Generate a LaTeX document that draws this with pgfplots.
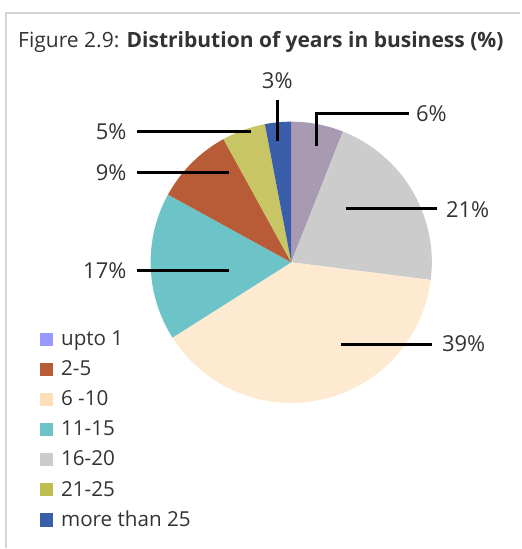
\documentclass[border=0pt]{standalone}
\usepackage{fontspec}
\setmainfont{Open Sans}
\usepackage{pgfplots}
\pgfplotsset{compat=1.18}
\definecolor{txt}{HTML}{333333}
\definecolor{frame}{HTML}{D4D4D4}
\definecolor{cA}{HTML}{A99AB3}
\definecolor{cAleg}{HTML}{9999FF}
\definecolor{cB}{HTML}{B85C37}
\definecolor{cC}{HTML}{FEE9D1}
\definecolor{cCleg}{HTML}{FFDFBA}
\definecolor{cD}{HTML}{6CC4C9}
\definecolor{cE}{HTML}{CCCCCC}
\definecolor{cF}{HTML}{C8C564}
\definecolor{cFleg}{HTML}{BEBD4F}
\definecolor{cG}{HTML}{3B5EAB}
% shares (%), in clockwise order from 12 o'clock
\def\pUp{6}   % upto 1
\def\pSix{21} % 16-20
\def\pSeven{39} % 6-10
\def\pEl{17}  % 11-15
\def\pTwo{9}  % 2-5
\def\pTw{5}   % 21-25
\def\pMo{3}   % more than 25
\begin{document}
\begin{tikzpicture}
\begin{axis}[
  x=0.75pt, y=0.75pt, y dir=reverse,
  xmin=0, xmax=521, ymin=0, ymax=549,
  hide axis, clip=false, scale only axis,
  legend style={at={(axis cs:40,331)}, anchor=north west, draw=none, fill=none,
    font=\fontsize{15.5}{18}\selectfont\color{txt}, row sep=8.9pt,
    inner sep=0pt, nodes={inner sep=0.5pt},
    /tikz/every even column/.style={column sep=0pt},
    /tikz/every odd column/.style={column sep=5.5pt}},
  legend cell align=left,
  legend image code/.code={\fill[#1,draw=none] (0pt,-4.9pt) rectangle (9.75pt,4.9pt);},
]
\pgfmathsetmacro{\aA}{90}
\pgfmathsetmacro{\aB}{\aA-3.6*\pUp}
\pgfmathsetmacro{\aC}{\aB-3.6*\pSix}
\pgfmathsetmacro{\aD}{\aC-3.6*\pSeven}
\pgfmathsetmacro{\aE}{\aD-3.6*\pEl}
\pgfmathsetmacro{\aF}{\aE-3.6*\pTwo}
\pgfmathsetmacro{\aG}{\aF-3.6*\pTw}
\pgfmathsetmacro{\aH}{\aG-3.6*\pMo}
\addplot[fill=cA, draw=none, domain=\aB:\aA, samples=20, variable=\t, forget plot]
  ({292+141*cos(\t)},{263-141*sin(\t)}) -- (axis cs:292,263) -- cycle;
\addplot[fill=cE, draw=none, domain=\aC:\aB, samples=40, variable=\t, forget plot]
  ({292+141*cos(\t)},{263-141*sin(\t)}) -- (axis cs:292,263) -- cycle;
\addplot[fill=cC, draw=none, domain=\aD:\aC, samples=60, variable=\t, forget plot]
  ({292+141*cos(\t)},{263-141*sin(\t)}) -- (axis cs:292,263) -- cycle;
\addplot[fill=cD, draw=none, domain=\aE:\aD, samples=30, variable=\t, forget plot]
  ({292+141*cos(\t)},{263-141*sin(\t)}) -- (axis cs:292,263) -- cycle;
\addplot[fill=cB, draw=none, domain=\aF:\aE, samples=20, variable=\t, forget plot]
  ({292+141*cos(\t)},{263-141*sin(\t)}) -- (axis cs:292,263) -- cycle;
\addplot[fill=cF, draw=none, domain=\aG:\aF, samples=15, variable=\t, forget plot]
  ({292+141*cos(\t)},{263-141*sin(\t)}) -- (axis cs:292,263) -- cycle;
\addplot[fill=cG, draw=none, domain=\aH:\aG, samples=10, variable=\t, forget plot]
  ({292+141*cos(\t)},{263-141*sin(\t)}) -- (axis cs:292,263) -- cycle;
% legend
\addlegendimage{fill=cAleg}\addlegendentry{upto 1}
\addlegendimage{fill=cB}\addlegendentry{2-5}
\addlegendimage{fill=cCleg}\addlegendentry{6 -10}
\addlegendimage{fill=cD}\addlegendentry{11-15}
\addlegendimage{fill=cE}\addlegendentry{16-20}
\addlegendimage{fill=cFleg}\addlegendentry{21-25}
\addlegendimage{fill=cG}\addlegendentry{more than 25}
% frame
\draw[frame, line width=2.2pt] (axis cs:6,549) -- (axis cs:6,13) -- (axis cs:521,13);
\path (axis cs:0,0) rectangle (axis cs:521,549);
% title
\node[anchor=base west, text=txt, font=\fontsize{15.8}{19}\selectfont, inner sep=0pt]
  at (axis cs:18,48) {Figure 2.9: \textbf{Distribution of years in business (\%)}};
% leader lines
\begin{scope}[line width=2.2pt, black]
\draw (axis cs:278,100) -- (axis cs:278,141);
\draw (axis cs:317,146) -- (axis cs:317,114) -- (axis cs:410,114);
\draw (axis cs:347,209) -- (axis cs:438,209);
\draw (axis cs:342,345) -- (axis cs:433,345);
\draw (axis cs:137,271) -- (axis cs:230,271);
\draw (axis cs:137,173) -- (axis cs:230,173);
\draw (axis cs:137,132) -- (axis cs:252,132);
\end{scope}
\begin{scope}[every node/.style={text=txt, font=\fontsize{16.5}{19}\selectfont, inner sep=0pt}]
\node[anchor=center] at (axis cs:278,81) {3\%};
\node[anchor=west] at (axis cs:417,114) {6\%};
\node[anchor=west] at (axis cs:447,210) {21\%};
\node[anchor=west] at (axis cs:443,345) {39\%};
\node[anchor=east] at (axis cs:127,271) {17\%};
\node[anchor=east] at (axis cs:127,173) {9\%};
\node[anchor=east] at (axis cs:127,132) {5\%};
\end{scope}
\end{axis}
\end{tikzpicture}
\end{document}
